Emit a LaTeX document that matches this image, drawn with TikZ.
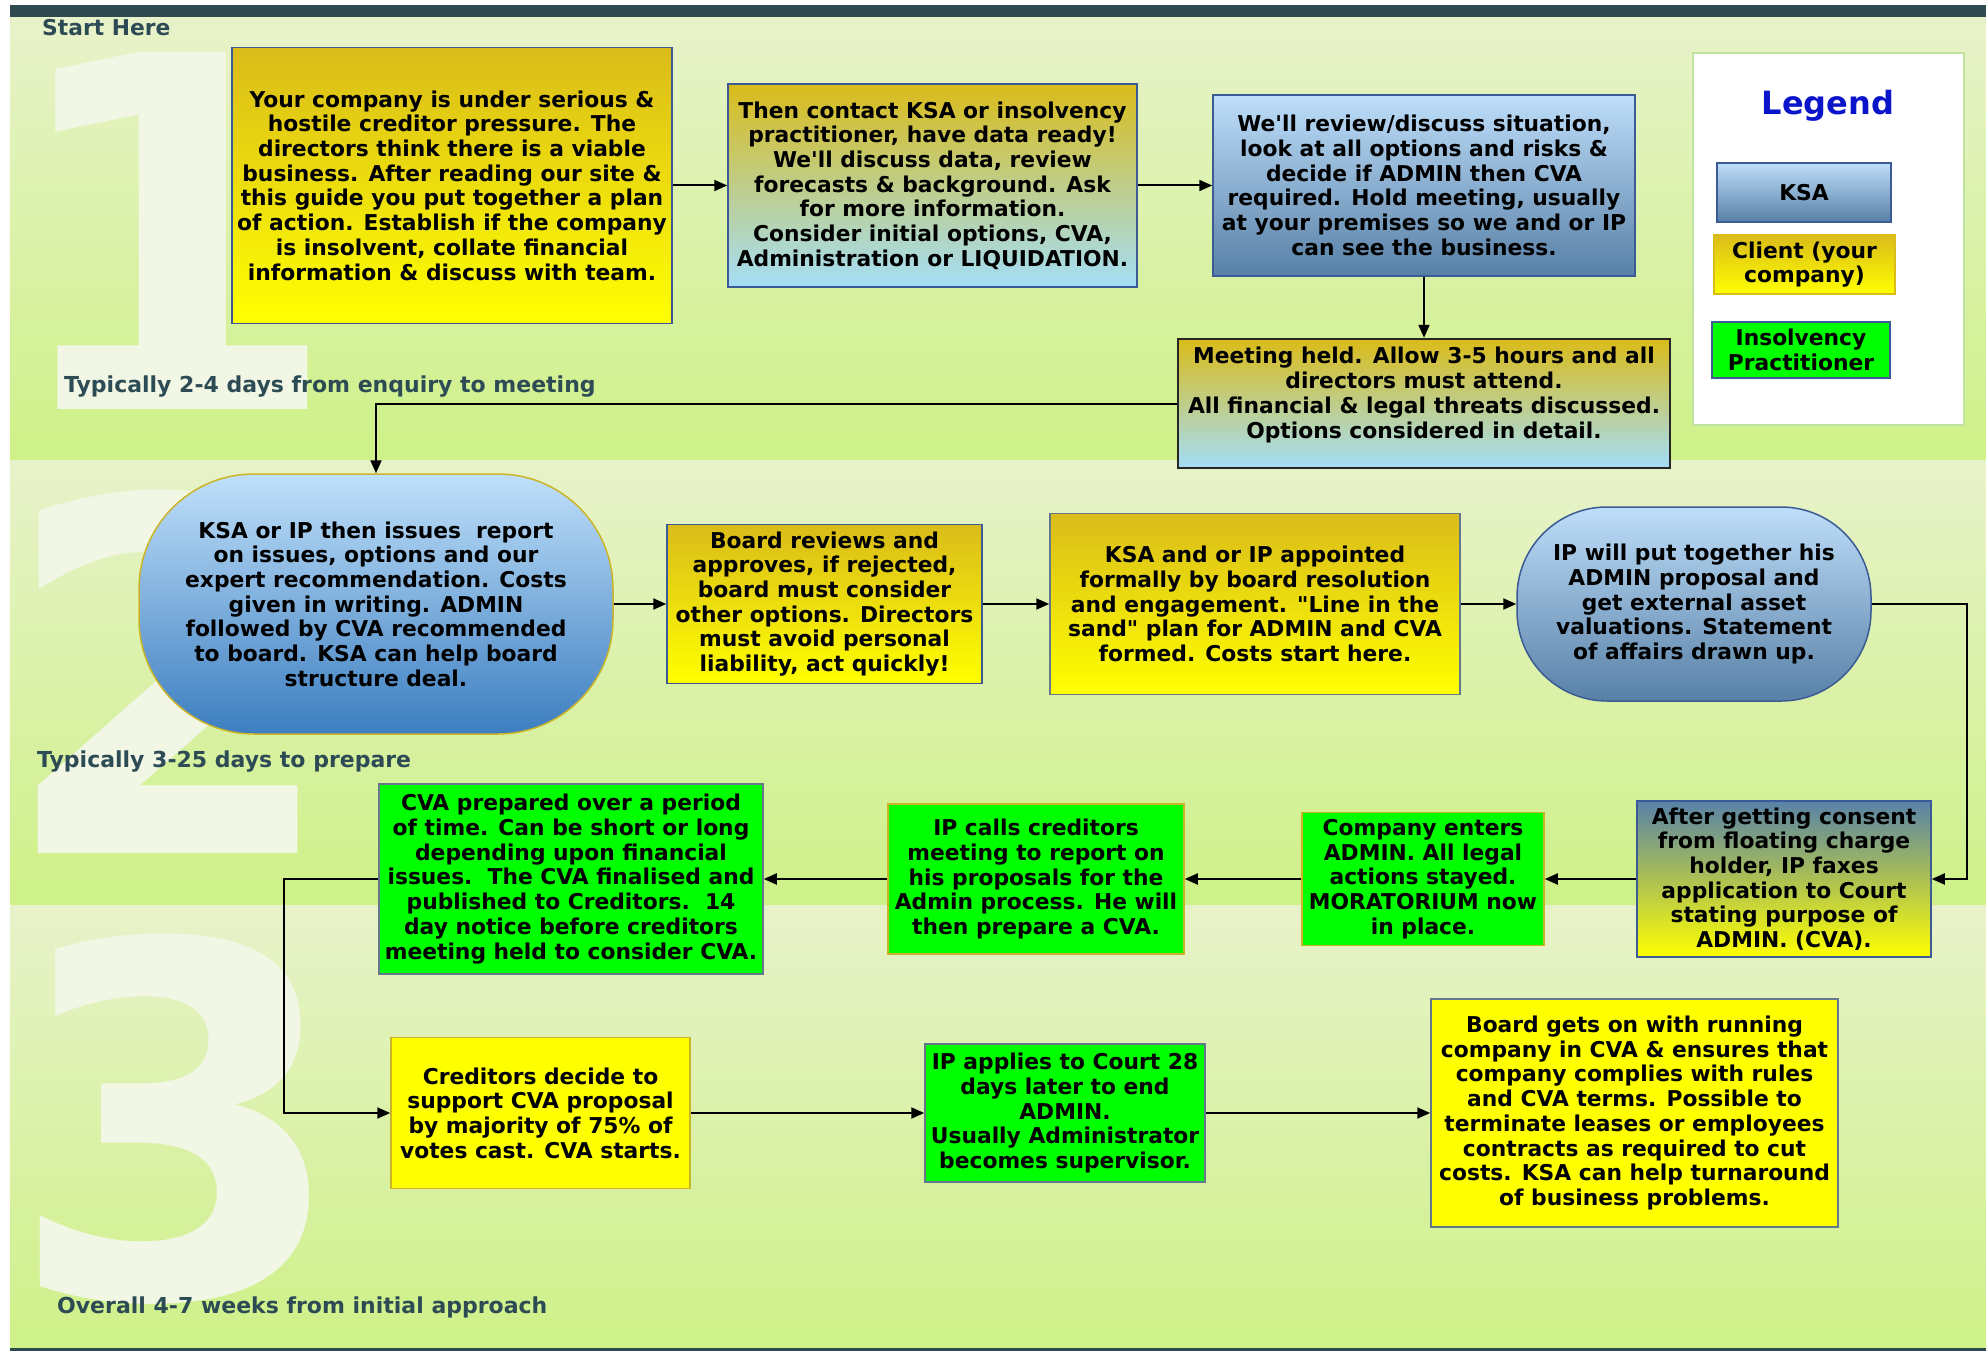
\documentclass[tikz,border=0pt]{standalone}
\usepackage{fontspec}
\newfontfamily\bxfam{DejaVu Sans}
\usetikzlibrary{arrows.meta}

\definecolor{bgtop}{RGB}{232,242,202}
\definecolor{bgbot}{RGB}{206,241,136}
\definecolor{darkbar}{RGB}{46,74,80}
\definecolor{numcol}{RGB}{241,247,228}
\definecolor{labcol}{RGB}{45,75,85}
\definecolor{cgold}{RGB}{218,188,26}
\definecolor{cyel}{RGB}{255,255,0}
\definecolor{lblue}{RGB}{164,222,248}
\definecolor{ksatop}{RGB}{190,222,250}
\definecolor{ksabot}{RGB}{88,128,166}
\definecolor{etop}{RGB}{192,224,250}
\definecolor{ebot}{RGB}{60,126,192}
\definecolor{itop}{RGB}{88,130,168}
\definecolor{ipgreen}{RGB}{0,255,0}
\definecolor{bblue}{RGB}{60,90,150}
\definecolor{bgoldb}{RGB}{204,180,40}
\definecolor{bgray}{RGB}{100,120,140}
\definecolor{legblue}{RGB}{10,20,200}
\definecolor{legbord}{RGB}{190,228,160}

\newcommand\bxfont{\bxfam\bfseries\fontsize{21.8pt}{24.7pt}\selectfont}

\tikzset{
  bxs/.style={draw=bblue, line width=1.5pt, inner sep=0pt, align=center, font=\bxfont, text=black},
  clientbox/.style={bxs, top color=cgold, bottom color=cyel},
  mixbox/.style={bxs, top color=cgold, bottom color=lblue},
  ksabox/.style={bxs, top color=ksatop, bottom color=ksabot},
  ipbox/.style={bxs, fill=ipgreen},
  yelbox/.style={bxs, fill=cyel},
  txt/.style={inner sep=0pt, align=center, font=\bxfont, text=black},
  arr/.style={line width=2pt, -{Triangle[length=13pt,width=11pt]}},
  seclab/.style={anchor=west, inner sep=0pt, text=labcol, font=\bxfam\bfseries\fontsize{22pt}{22pt}\selectfont},
  numeral/.style={anchor=base, inner sep=0pt, text=numcol, font=\bxfam\bfseries\fontsize{490pt}{490pt}\selectfont}
}

\begin{document}
\begin{tikzpicture}[x=1pt,y=-1pt]
\useasboundingbox (0,0) rectangle (1986,1351);
\fill[white] (0,0) rectangle (1986,1351);
% sections
\shade[top color=bgtop, bottom color=bgbot] (10,17) rectangle (1986,460);
\shade[top color=bgtop, bottom color=bgbot] (10,460) rectangle (1986,905);
\shade[top color=bgtop, bottom color=bgbot] (10,905) rectangle (1986,1348);
\fill[darkbar] (10,5) rectangle (1986,17);
\fill[darkbar] (10,1348) rectangle (1986,1351);
% numerals
\begin{scope}
\clip (10,17) rectangle (1986,1348);
\node[numeral] (n1) at (171,409) {1};
\node[numeral] (n2) at (170,853) {2};
\node[numeral] (n3) at (178,1297) {3};
\end{scope}
% section labels
\node[seclab, font=\bxfam\bfseries\fontsize{21.8pt}{21.8pt}\selectfont] (s0) at (42,28) {Start Here};
\node[seclab] (s1) at (64,387) {Typically 2-4 days from enquiry to meeting};
\node[seclab] (s2) at (37,762) {Typically 3-25 days to prepare};
\node[seclab] (s3) at (57,1307) {Overall 4-7 weeks from initial approach};

% legend
\node[draw=legbord, fill=white, line width=1.5pt, minimum width=271pt, minimum height=372pt] (leg) at (1828.5,239) {};
\node[inner sep=0pt, text=legblue, font=\bxfam\bfseries\fontsize{32pt}{32pt}\selectfont] (legt) at (1828,106) {Legend};
\node[ksabox, minimum width=174pt, minimum height=59pt] (lk) at (1804,192.5) {KSA};
\node[clientbox, draw=cgold, minimum width=181pt, minimum height=59pt] (lc) at (1804.5,264.5) {Client (your\\company)};
\node[ipbox, minimum width=178pt, minimum height=56pt] (li) at (1801,350) {Insolvency\\Practitioner};

% row 1
\node[clientbox, minimum width=440pt, minimum height=276pt] (A) at (452,185.5) {Your company is under serious \&\\hostile creditor pressure. The\\directors think there is a viable\\business. After reading our site \&\\this guide you put together a plan\\of action. Establish if the company\\is insolvent, collate financial\\information \& discuss with team.};
\node[mixbox, minimum width=409pt, minimum height=203pt] (B) at (932.5,185.5) {Then contact KSA or insolvency\\practitioner, have data ready!\\We'll discuss data, review\\forecasts \& background. Ask\\for more information.\\Consider initial options, CVA,\\Administration or LIQUIDATION.};
\node[ksabox, minimum width=422pt, minimum height=181pt] (C) at (1424,185.5) {We'll review/discuss situation,\\look at all options and risks \&\\decide if ADMIN then CVA\\required. Hold meeting, usually\\at your premises so we and or IP\\can see the business.};
\node[mixbox, draw=black!85, line width=2.5pt, minimum width=492pt, minimum height=129pt] (D) at (1424,403.5) {};
\node[txt] (Dt) at (1424,395) {Meeting held. Allow 3-5 hours and all\\directors must attend.\\All financial \& legal threats discussed.\\Options considered in detail.};

% row 2
\node[bxs, draw=bgoldb, top color=etop, bottom color=ebot, rounded corners=115pt, minimum width=474pt, minimum height=260pt] (E) at (376,604) {KSA or IP then issues\ \ report\\on issues, options and our\\expert recommendation. Costs\\given in writing. ADMIN\\followed by CVA recommended\\to board. KSA can help board\\structure deal.};
\node[clientbox, minimum width=315pt, minimum height=159pt] (F) at (824.5,604) {Board reviews and\\approves, if rejected,\\board must consider\\other options. Directors\\must avoid personal\\liability, act quickly!};
\node[clientbox, draw=bgray, minimum width=410pt, minimum height=181pt] (G) at (1255,604) {KSA and or IP appointed\\formally by board resolution\\and engagement. "Line in the\\sand" plan for ADMIN and CVA\\formed. Costs start here.};
\node[ksabox, rounded corners=90pt, minimum width=354pt, minimum height=194pt] (H) at (1694,604) {IP will put together his\\ADMIN proposal and\\get external asset\\valuations. Statement\\of affairs drawn up.};

% row 2b
\node[bxs, top color=itop, bottom color=cyel, minimum width=294pt, minimum height=156pt] (I) at (1784,879) {After getting consent\\from floating charge\\holder, IP faxes\\application to Court\\stating purpose of\\ADMIN. (CVA).};
\node[ipbox, draw=bgoldb, minimum width=242pt, minimum height=133pt] (J) at (1423,879) {Company enters\\ADMIN. All legal\\actions stayed.\\MORATORIUM now\\in place.};
\node[ipbox, draw=bgoldb, minimum width=296pt, minimum height=150pt] (K) at (1036,879) {IP calls creditors\\meeting to report on\\his proposals for the\\Admin process. He will\\then prepare a CVA.};
\node[ipbox, draw=bgray, minimum width=384pt, minimum height=190pt] (L) at (571,879) {CVA prepared over a period\\of time. Can be short or long\\depending upon financial\\issues.\ \ The CVA finalised and\\published to Creditors.\ \ 14\\day notice before creditors\\meeting held to consider CVA.};

% row 3
\node[yelbox, draw=bgoldb, minimum width=299pt, minimum height=151pt] (M) at (540.5,1113) {Creditors decide to\\support CVA proposal\\by majority of 75\% of\\votes cast. CVA starts.};
\node[ipbox, draw=bgray, minimum width=280pt, minimum height=138pt] (N) at (1065,1113) {IP applies to Court 28\\days later to end\\ADMIN.\\Usually Administrator\\becomes supervisor.};
\node[yelbox, draw=bgray, minimum width=407pt, minimum height=228pt] (O) at (1634.5,1113) {Board gets on with running\\company in CVA \& ensures that\\company complies with rules\\and CVA terms. Possible to\\terminate leases or employees\\contracts as required to cut\\costs. KSA can help turnaround\\of business problems.};

% connectors
\coordinate (hturn) at (1967,604);
\coordinate (lturn) at (284,879);
\draw[arr] (A) -- (B);
\draw[arr] (B) -- (C);
\draw[arr] (C) -- (D);
\draw[arr] (D.west) -| (E.north);
\draw[arr] (E) -- (F);
\draw[arr] (F) -- (G);
\draw[arr] (G) -- (H);
\draw[arr] (H.east) -- (hturn) |- (I.east);
\draw[arr] (I) -- (J);
\draw[arr] (J) -- (K);
\draw[arr] (K) -- (L);
\draw[arr] (L.west) -- (lturn) |- (M.west);
\draw[arr] (M) -- (N);
\draw[arr] (N) -- (O);
\end{tikzpicture}
\end{document}
